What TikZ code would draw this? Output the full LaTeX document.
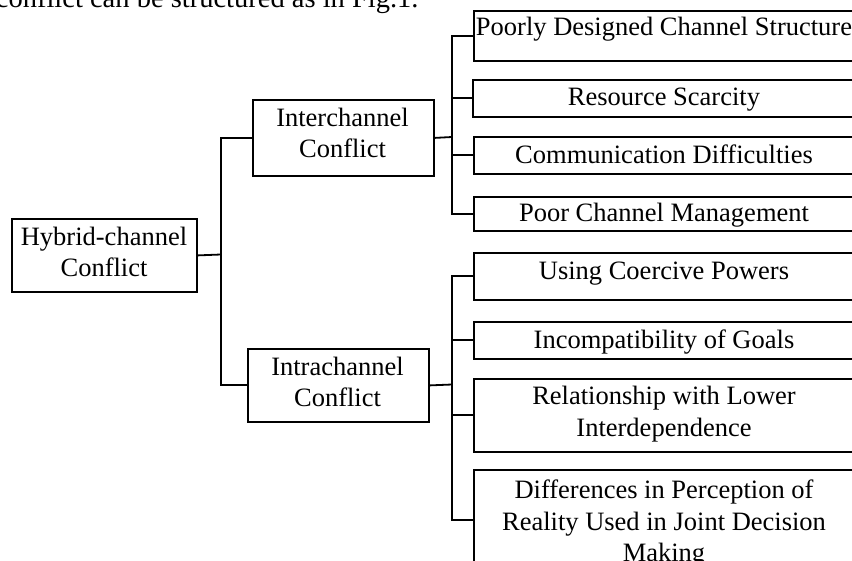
\documentclass[tikz,border=0pt]{standalone}
\usepackage{fontspec}
\setmainfont{Liberation Serif}
\begin{document}
\begin{tikzpicture}[x=1pt,y=-1pt,
  line width=1.8pt,
  bx/.style={draw,inner sep=0pt,anchor=north west},
  txt/.style={anchor=base,inner sep=0pt,font=\fontsize{26.5}{31}\selectfont},
  link/.style={draw,line width=1.8pt}]
\useasboundingbox (0,0) rectangle (852,561);
\clip (0,0) rectangle (852,561);
% caption fragment at the top
\node[anchor=base west,inner sep=0pt,font=\fontsize{28.5}{34}\selectfont] (cap) at (-5,8) {conflict can be structured as in Fig.1.};
% root
\node[bx,minimum width=185pt,minimum height=73pt] (H) at (11,218) {};
\node[txt] (Ha) at (104,245.5) {Hybrid-channel};
\node[txt] (Hb) at (104,276.5) {Conflict};
% level 2
\node[bx,minimum width=181pt,minimum height=76pt] (inter) at (252,99) {};
\node[txt] (ia) at (342.5,126.5) {Interchannel};
\node[txt] (ib) at (342.5,158) {Conflict};
\node[bx,minimum width=181pt,minimum height=73pt] (intra) at (247,348) {};
\node[txt] (ra) at (337.5,376) {Intrachannel};
\node[txt] (rb) at (337.5,406.5) {Conflict};
% level 3, interchannel
\node[bx,minimum width=382pt,minimum height=50pt] (b1) at (473,10) {};
\node[txt] (t1) at (664,35.5) {Poorly Designed Channel Structure};
\node[bx,minimum width=383pt,minimum height=37pt] (b2) at (472,79) {};
\node[txt] (t2) at (664,106) {Resource Scarcity};
\node[bx,minimum width=382pt,minimum height=37pt] (b3) at (473,136) {};
\node[txt] (t3) at (664,163.3) {Communication Difficulties};
\node[bx,minimum width=382pt,minimum height=34pt] (b4) at (473,196) {};
\node[txt] (t4) at (664,221.7) {Poor Channel Management};
% level 3, intrachannel
\node[bx,minimum width=382pt,minimum height=47pt] (b5) at (473,252) {};
\node[txt] (t5) at (664,279.3) {Using Coercive Powers};
\node[bx,minimum width=382pt,minimum height=37pt] (b6) at (473,321) {};
\node[txt] (t6) at (664,348.3) {Incompatibility of Goals};
\node[bx,minimum width=382pt,minimum height=73pt] (b7) at (473,378) {};
\node[txt] (t7a) at (664,405) {Relationship with Lower};
\node[txt] (t7b) at (664,436.7) {Interdependence};
\node[bx,minimum width=382pt,minimum height=100pt] (b8) at (473,469) {};
\node[txt] (t8a) at (664,498.3) {Differences in Perception of};
\node[txt] (t8b) at (664,530) {Reality Used in Joint Decision};
\node[txt] (t8c) at (664,561.5) {Making};
% connectors
\coordinate (j0) at (221,254.5);
\coordinate (j1) at (452,137);
\coordinate (j2) at (452,384.5);
\draw[link] (H.east) -- (j0);
\draw[link] (inter.west) -| (j0) |- (intra.west);
\draw[link] (inter.east) -- (j1);
\draw[link] (b1.west) -| (j1) |- (b4.west);
\draw[link] (j1 |- b2.west) -- (b2.west);
\draw[link] (j1 |- b3.west) -- (b3.west);
\draw[link] (intra.east) -- (j2);
\draw[link] (b5.west) -| (j2) |- (b8.west);
\draw[link] (j2 |- b6.west) -- (b6.west);
\draw[link] (j2 |- b7.west) -- (b7.west);
\end{tikzpicture}
\end{document}
